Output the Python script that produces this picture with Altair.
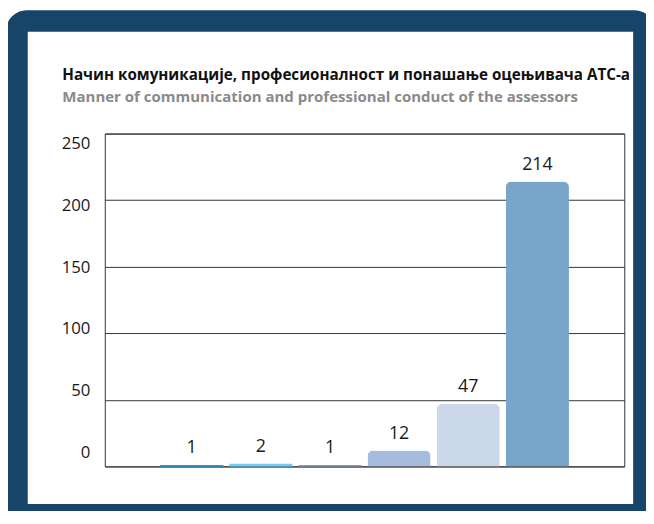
import altair as alt
import pandas as pd

categories = ["1", "2", "3", "4", "5", "6"]
values = [1, 2, 1, 12, 47, 214]
bar_colors = ["#00aeef", "#6dcff6", "#819fcf", "#a6bcdd", "#cbd8ea", "#78a6cb"]
y_ticks = [0, 50, 100, 150, 200, 250]
title_sr = "Начин комуникације, професионалност  и понашање оцењивача АТС-а"
title_en = "Manner of communication and professional conduct of the assessors"

FONT = "Open Sans"
FRAME = "#17456a"

df = pd.DataFrame({"category": categories, "value": values, "color": bar_colors})
axis_df = pd.DataFrame({"tick": y_ticks})

x_enc = alt.X("category:N", sort=categories,
              scale=alt.Scale(paddingInner=0.086, paddingOuter=0.8), axis=None)
y_scale = alt.Scale(domain=[0, 250], nice=False, zero=True)
y_axis = alt.Axis(orient="right", values=y_ticks, grid=True, labels=False,
                  ticks=False, domain=False, title=None,
                  gridColor="#333333", gridWidth=1, gridOpacity=1)

big_bars = alt.Chart(df).transform_filter("datum.value >= 5").mark_bar(
    cornerRadiusTopLeft=6, cornerRadiusTopRight=6).encode(
    x=x_enc,
    y=alt.Y("value:Q", scale=y_scale, axis=y_axis),
    color=alt.Color("color:N", scale=None),
)
small_bars = alt.Chart(df).transform_filter("datum.value < 5").mark_bar().encode(
    x=x_enc,
    y=alt.Y("value:Q", scale=y_scale, axis=None),
    color=alt.Color("color:N", scale=None),
)

labels = alt.Chart(df).mark_text(font=FONT, fontSize=18, color="#1a1a1a",
                                 baseline="alphabetic", dy=-12).encode(
    x=x_enc,
    y=alt.Y("value:Q", scale=y_scale, axis=None),
    text="value:Q",
)

axis_layer = alt.Chart(axis_df).mark_point(opacity=0).encode(
    y=alt.Y("tick:Q", scale=alt.Scale(domain=[-11.2, 258.0], nice=False, zero=False),
            axis=alt.Axis(orient="left", values=y_ticks, grid=False, ticks=False,
                          domain=False, labelPadding=15, labelFontSize=17,
                          labelFont=FONT, labelColor="#1a1a1a", title=None,
                          labelBaseline="middle")),
)

deco = alt.Chart(alt.Data(values=[{"k": 0}]))
frame = deco.mark_rect(fill="transparent", stroke=FRAME, strokeWidth=22, cornerRadius=10).encode(
    x=alt.value(-89), x2=alt.value(546), y=alt.value(-114), y2=alt.value(386)
)
t1 = deco.mark_text(text=title_sr, align="left", baseline="alphabetic", font=FONT,
                    fontSize=15.4, fontWeight="bold", color="#111111").encode(
    x=alt.value(-43), y=alt.value(-54))
t2 = deco.mark_text(text=title_en, align="left", baseline="alphabetic", font=FONT,
                    fontSize=15.2, fontWeight="bold", color="#8a8a8a").encode(
    x=alt.value(-43), y=alt.value(-32))

chart = alt.layer(frame, t1, t2, big_bars, small_bars, labels, axis_layer).resolve_scale(
    y="independent"
).properties(
    width=526, height=337,
    padding={"left": 98, "top": 124, "right": 22, "bottom": 42},
    autosize=alt.AutoSizeParams(type="none"),
).configure_view(stroke="#333333", strokeWidth=1)

chart.save("out.html", embed_options={"renderer": "svg", "actions": False})
